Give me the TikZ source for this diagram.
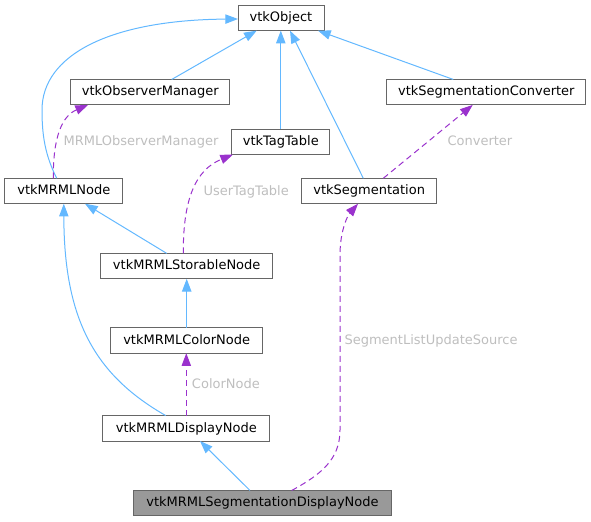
\documentclass[tikz,border=0pt]{standalone}
\usepackage{fontspec}
\setmainfont{DejaVu Sans}
\usetikzlibrary{arrows.meta,calc}
\definecolor{inhblue}{HTML}{63B8FF}
\definecolor{usepurple}{HTML}{9A32CD}
\definecolor{lblgrey}{HTML}{BEBEBE}
\definecolor{boxborder}{HTML}{666666}
\definecolor{rootfill}{HTML}{999999}
\begin{document}
\begin{tikzpicture}[x=0.75pt,y=-0.75pt,
  cls/.style={draw=boxborder, line width=0.75pt, fill=white, inner sep=0pt, outer sep=0pt,
    minimum height=19.1pt, text height=7.4pt, text depth=1.8pt,
    font=\fontsize{9.75pt}{11pt}\selectfont},
  inh/.style={draw=inhblue, line width=0.75pt, -{Triangle[length=9.5pt,width=7pt]}},
  usage/.style={draw=usepurple, line width=0.75pt, dash pattern=on 4.5pt off 3pt,
    -{Triangle[length=9.5pt,width=7pt]}},
  lbl/.style={text=lblgrey, inner sep=0pt, anchor=base west,
    font=\fontsize{9.75pt}{11pt}\selectfont}
]
\useasboundingbox (0,0) rectangle (591,521);

% nodes
\node[cls, minimum width=64.5pt]  (obj)   at (281,17.9)    {vtkObject};
\node[cls, minimum width=119.5pt] (obs)   at (150.3,92.2)  {vtkObserverManager};
\node[cls, minimum width=149.5pt] (conv)  at (486.3,92.2)  {vtkSegmentationConverter};
\node[cls, minimum width=73.7pt]  (tag)   at (280.8,141.8) {vtkTagTable};
\node[cls, minimum width=88.3pt]  (mrml)  at (63.8,191)    {vtkMRMLNode};
\node[cls, minimum width=101.25pt] (seg)  at (369.2,191)   {vtkSegmentation};
\node[cls, minimum width=129pt]   (stor)  at (186.7,266.1) {vtkMRMLStorableNode};
\node[cls, minimum width=114pt]   (color) at (186.7,340.5) {vtkMRMLColorNode};
\node[cls, minimum width=125.5pt] (disp)  at (186.3,428.3) {vtkMRMLDisplayNode};
\node[cls, minimum width=193.7pt, fill=rootfill] (segdisp) at (262.5,503.2) {vtkMRMLSegmentationDisplayNode};

% inheritance edges
\draw[inh] ($(obs.north)+(21.4,0)$) -- ($(obj.south)+(-24.3,0)$);
\draw[inh] (tag.north) -- (tag.north |- obj.south);
\draw[inh] ($(seg.north)+(-5.9,0)$) -- ($(obj.south)+(9,0)$);
\draw[inh] ($(conv.north)+(-33,0)$) -- ($(obj.south)+(37,0)$);
\draw[inh] ($(mrml.north)+(-7.1,0)$) .. controls (45,155) and (42,135) .. (42,110)
  .. controls (42,55) and (110,20) .. ($(obj.west)+(0,1.1)$);
\draw[inh] ($(stor.north)+(-20,0)$) -- ($(mrml.south)+(21.2,0)$);
\draw[inh] (color.north) -- (stor.south);
\draw[inh] ($(disp.north)+(-20.6,0)$) .. controls (95,375) and (64,320) .. (mrml.south);
\draw[inh] ($(segdisp.north)+(-12.5,0)$) -- ($(disp.south)+(13.7,0)$);

% usage edges
\draw[usage] ($(mrml.north)+(-10.5,0)$) .. controls (53,137) and (62,116) .. ($(obs.south)+(-62.3,0)$);
\draw[usage] ($(stor.north)+(-3.4,0)$) .. controls (183,200) and (195,170) .. ($(tag.south)+(-47.8,0)$);
\draw[usage] ($(seg.north)+(14.1,0)$) -- ($(conv.south)+(-13.6,0)$);
\draw[usage] ($(segdisp.north)+(29.2,0)$) .. controls (320,475) and (340,460) .. (340,430)
  -- (340,255) .. controls (340,230) and (348,215) .. ($(seg.south)+(-11.2,0)$);
\draw[usage] (disp.north) -- (disp.north |- color.south);

% labels
\node[lbl] (l1) at (63.3,145.7)  {MRMLObserverManager};
\node[lbl] (l2) at (203.3,195)   {UserTagTable};
\node[lbl] (l3) at (447.3,145.7) {Converter};
\node[lbl] (l4) at (344.3,344.7) {SegmentListUpdateSource};
\node[lbl] (l5) at (191.7,388)   {ColorNode};
\end{tikzpicture}
\end{document}
